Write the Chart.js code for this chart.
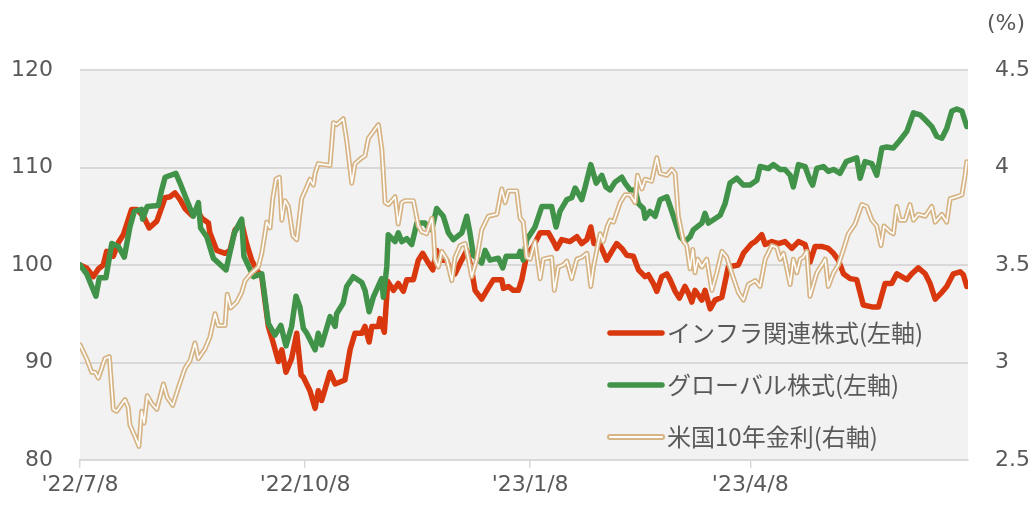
<!DOCTYPE html>
<html><head><meta charset="utf-8">
<script src="https://cdn.jsdelivr.net/npm/chart.js@4.4.1/dist/chart.umd.min.js"></script>
<style>html,body{margin:0;padding:0;background:#fff;}canvas{display:block;}</style>
</head><body>
<canvas id="c" width="1035" height="506"></canvas>
<script>
// x values = days since 2022-07-08
const tickDays = [0, 92, 184, 274];
const tickLabels = ["'22/7/8", "'22/10/8", "'23/1/8", "'23/4/8"];
const seriesNames = ['インフラ関連株式(左軸)', 'グローバル株式(左軸)', '米国10年金利(右軸)'];

const infraDays = [0,2.7,5.4,7.5,9.5,10.9,13.6,15.7,17.7,21.1,23.2,25.9,28.3,31.4,34.8,36.8,38.8,40.9,42.9,45.7,47.7,49.8,52.5,53.1,55.9,59.3,61.3,63.4,66.1,68.2,70.2,72.2,74.3,77.0,79.0,81.1,82.5,84.2,86.5,88.6,90.4,91.3,94.0,96.1,97.4,98.8,102.2,104.3,108.3,110.4,112.4,115.2,116.5,118.2,119.3,122.0,122.6,124.4,125.8,128.1,130.1,132.2,133.6,136.3,138.3,140.1,142.4,144.2,145.8,147.2,149.9,151.3,153.3,155.4,158.1,160.1,161.5,164.2,166.3,169.0,172.4,173.1,175.1,177.1,179.2,180.6,182.6,185.3,188.1,191.5,193.5,194.9,196.9,200.3,203.1,205.1,207.2,208.8,210.1,212.6,215.3,217.4,219.4,221.5,223.5,226.2,228.3,231.0,232.3,234.4,235.8,237.8,239.9,241.2,243.3,245.0,247.3,248.7,250.1,251.4,254.2,255.5,257.6,259.6,262.4,265.0,269.1,271.2,274.6,276.0,278.7,280.1,282.8,285.5,288.2,291.0,293.7,296.4,298.4,300.5,303.2,305.9,308.0,310.0,312.1,314.8,317.5,320.2,323.7,326.4,329.1,331.8,333.9,335.9,338.0,340.0,342.7,345.5,347.5,349.6,352.3,354.3,357.0,359.8,361.1,362.5];
const infraValues = [100,99.7,98.8,99.6,100.0,101.4,100.9,102.3,103.1,105.7,105.7,105.0,103.8,104.5,106.9,107.0,107.4,106.7,105.8,105.1,105.7,104.8,104.3,103.3,101.5,101.2,101.5,103.6,104.3,102.1,100.5,99.5,98.8,93.7,92.0,90.1,91.3,89.0,90.4,93.0,88.7,88.5,87.1,85.3,87.1,86.1,89.0,87.8,88.2,91.3,93.0,93.0,93.7,92.1,93.7,93.7,94.5,93.1,98.3,97.4,98.1,97.3,98.5,98.5,100.5,101.2,100.2,99.5,101.5,100.5,100.5,99.5,99.1,100.2,101.5,99.5,97.4,96.5,97.4,98.5,98.5,97.6,97.8,97.4,97.4,98.5,101.0,101.9,103.3,103.3,102.4,101.7,102.6,102.4,102.9,102.2,102.6,103.9,102.2,102.1,100.5,101.4,102.2,101.7,101.0,100.9,99.5,98.8,99.0,98.1,97.3,98.8,99.1,98.5,97.3,96.6,97.8,97.1,96.2,97.4,96.4,97.4,95.5,96.4,96.7,99.8,100.0,101.2,102.2,102.4,103.1,102.1,102.4,102.2,102.4,101.7,102.4,102.1,100.3,101.9,101.9,101.7,101.2,100.5,99.1,98.6,98.5,95.9,95.7,95.7,98.1,98.1,99.1,98.8,98.5,99.1,99.7,99.1,98.1,96.5,97.2,97.8,99.1,99.3,99.0,97.8];

const globalDays = [0,2.7,6.5,7.9,10.6,13.0,15.7,18.1,20.4,22.2,25.2,25.6,27.5,32.0,33.4,34.8,39.2,40.9,43.6,46.3,48.4,49.3,51.8,54.5,59.7,63.1,66.1,67.0,70.9,74.3,77.0,79.7,82.1,84.2,86.5,88.3,89.9,91.3,92.7,96.1,97.4,98.8,102.2,104.3,104.9,107.6,109.0,111.7,115.2,116.5,118.2,119.9,123.3,124.0,125.4,126.0,128.8,130.1,131.5,133.6,135.6,137.7,141.0,142.4,143.8,145.8,148.5,150.6,152.6,156.1,158.1,159.4,160.8,164.2,165.6,167.6,171.0,172.8,174.2,179.2,179.9,181.2,182.6,186.0,188.8,192.8,194.6,196.2,199.0,201.0,202.4,205.1,206.5,208.8,211.0,213.3,215.0,216.7,218.7,221.5,222.8,224.9,226.9,228.3,230.3,231.0,233.0,235.1,237.1,239.9,242.6,245.3,247.3,249.4,250.7,254.2,255.5,256.9,261.7,263.7,265.7,268.5,271.2,273.9,276.7,278.0,281.4,283.4,286.2,288.2,290.3,291.6,293.7,296.4,298.4,299.5,301.2,303.9,305.9,308.0,310.7,313.2,317.5,318.9,320.9,323.7,325.7,327.8,329.8,332.5,335.2,338.0,340.7,343.4,345.5,348.2,350.2,352.3,354.3,356.4,358.4,360.5,362.5];
const globalValues = [100,99.1,96.8,98.7,98.7,102.2,101.9,100.8,103.9,105.5,105.7,104.7,106.0,106.1,107.7,109.0,109.4,108.4,106.7,105.0,106.4,103.8,102.9,100.7,99.5,103.3,104.7,100.9,98.8,99.1,94.0,92.8,93.8,91.7,93.7,96.8,95.7,93.5,93.0,91.3,93.0,91.8,94.7,93.7,95.0,96.1,97.8,98.8,98.2,97.4,95.2,96.7,98.6,96.7,99.8,103.1,102.4,103.3,102.4,102.7,102.1,104.3,104.3,103.8,103.6,105.8,105.0,103.3,102.6,103.3,105.0,103.3,101.0,100.2,101.5,100.5,100.7,99.7,100.9,100.9,101.4,100.5,102.6,103.9,106.0,106.0,103.9,105.5,106.7,106.9,107.9,106.7,108.0,110.3,108.4,109.2,108.0,107.7,108.5,109.0,108.4,107.7,107.7,106.3,105.8,104.8,105.5,105.0,106.7,107.0,105.0,102.9,102.4,102.9,103.6,104.3,105.3,104.3,105.1,106.3,108.4,108.9,108.2,108.2,108.7,110.1,109.9,110.3,109.8,109.8,109.2,108.0,110.3,110.1,108.7,108.2,109.9,110.1,109.6,109.8,109.4,110.6,111.0,108.9,110.6,110.4,109.2,112.0,112.1,112.0,112.8,113.7,115.6,115.4,114.9,114.2,113.2,113.0,114.0,115.8,116.0,115.8,114.2];

const rateDays = [0,2.7,4.8,6.1,7.5,10.2,12.0,13.6,15.0,18.4,19.7,20.4,22.5,24.1,25.2,26.2,27.5,29.3,31.4,34.1,35.7,37.9,40.2,42.9,45.0,47.0,48.4,51.1,53.1,55.2,56.5,59.3,60.2,61.6,64.1,66.1,67.5,70.2,72.9,74.3,75.6,76.3,77.7,78.8,80.1,81.5,82.5,83.8,85.2,87.0,88.6,90.6,92.0,94.0,95.4,96.1,97.4,102.2,103.6,104.9,107.6,109.0,111.1,112.4,115.2,116.5,117.9,122.0,123.4,124.7,126.1,128.8,130.1,131.5,132.9,136.3,138.3,139.7,141.7,143.8,144.5,145.1,146.5,147.9,149.9,152.0,153.3,155.4,157.4,158.8,160.1,162.2,164.2,166.9,170.4,172.4,173.8,175.1,178.5,179.9,181.2,182.6,184.0,186.0,188.1,189.4,192.8,193.9,195.5,197.6,199.0,201.0,203.1,205.1,207.2,208.8,209.9,212.6,213.9,215.6,216.7,218.1,220.8,222.8,224.9,226.9,227.9,229.7,231.0,233.7,235.8,237.1,239.9,241.9,243.3,244.6,246.7,248.0,249.4,250.5,251.4,252.5,254.2,256.2,258.3,260.3,262.4,264.4,266.4,269.1,271.2,273.2,276.0,278.0,280.1,282.8,284.8,286.2,287.6,290.3,291.6,293.0,294.4,295.7,297.1,298.4,301.2,303.2,304.6,305.9,308.0,310.0,312.1,314.1,316.8,319.6,321.6,323.7,325.7,327.4,328.7,331.2,332.5,333.9,335.2,337.3,339.3,340.7,342.7,345.5,348.2,349.6,352.3,354.3,355.7,358.4,360.5,361.8,362.5];
const rateValues = [3.09,3.02,2.95,2.95,2.92,3.02,3.03,2.76,2.75,2.81,2.77,2.68,2.62,2.57,2.75,2.69,2.83,2.79,2.76,2.89,2.82,2.78,2.87,2.97,3.01,3.10,3.02,3.07,3.13,3.25,3.19,3.19,3.35,3.28,3.31,3.36,3.42,3.46,3.49,3.56,3.66,3.72,3.69,3.84,3.94,3.95,3.73,3.83,3.80,3.65,3.63,3.84,3.88,3.94,3.91,3.97,4.02,4.01,4.23,4.22,4.25,4.14,3.92,4.02,4.05,4.06,4.15,4.22,4.09,3.82,3.81,3.85,3.71,3.82,3.83,3.83,3.70,3.67,3.66,3.74,3.66,3.53,3.49,3.57,3.53,3.42,3.54,3.60,3.61,3.53,3.44,3.53,3.68,3.75,3.76,3.89,3.82,3.88,3.88,3.74,3.72,3.54,3.53,3.62,3.43,3.53,3.54,3.37,3.49,3.50,3.52,3.43,3.53,3.54,3.56,3.39,3.49,3.66,3.62,3.70,3.73,3.72,3.82,3.86,3.86,3.82,3.96,3.89,3.94,3.93,4.05,3.97,3.96,3.99,3.97,3.75,3.62,3.60,3.48,3.58,3.46,3.53,3.49,3.53,3.37,3.46,3.57,3.54,3.46,3.36,3.32,3.40,3.42,3.39,3.53,3.60,3.59,3.53,3.56,3.40,3.53,3.46,3.53,3.54,3.57,3.34,3.46,3.50,3.53,3.39,3.46,3.50,3.58,3.66,3.71,3.81,3.80,3.73,3.70,3.60,3.70,3.67,3.66,3.80,3.73,3.73,3.81,3.73,3.76,3.75,3.80,3.72,3.76,3.72,3.84,3.85,3.86,3.96,4.03];

const RED = '#d9380f', GREEN = '#42934a', TAN = '#d6b485', TXT = '#595959', GRID = '#d9d9d9';
const toXY = (d, v) => d.map((x, i) => ({x: x, y: v[i]}));

const lineBase = {pointRadius: 0, tension: 0, borderJoinStyle: 'round', borderCapStyle: 'round', fill: false};

const plotBg = {
  id: 'plotBg',
  beforeDraw(chart) {
    const {ctx, chartArea: a} = chart;
    ctx.save(); ctx.fillStyle = '#f2f2f2';
    ctx.fillRect(a.left, a.top, a.right - a.left, a.bottom - a.top);
    ctx.restore();
  }
};
const extras = {
  id: 'extras',
  afterDraw(chart) {
    const ctx = chart.ctx;
    ctx.save();
    ctx.fillStyle = TXT;
    ctx.font = '22px "DejaVu Sans"';
    ctx.textAlign = 'center'; ctx.textBaseline = 'middle';
    ctx.fillText('(%)', 1006, 24);
    // legend
    const items = [
      {name: seriesNames[0], y: 333, color: RED, w: 5.5},
      {name: seriesNames[1], y: 385, color: GREEN, w: 5.5},
      {name: seriesNames[2], y: 437, color: TAN, w: 6, inner: true}
    ];
    ctx.lineCap = 'round';
    for (const it of items) {
      ctx.strokeStyle = it.color; ctx.lineWidth = it.w;
      ctx.beginPath(); ctx.moveTo(610, it.y); ctx.lineTo(662, it.y); ctx.stroke();
      if (it.inner) {
        ctx.strokeStyle = '#ffffff'; ctx.lineWidth = 2;
        ctx.beginPath(); ctx.moveTo(610, it.y); ctx.lineTo(662, it.y); ctx.stroke();
      }
      ctx.fillStyle = TXT;
      ctx.font = '24px "Noto Sans CJK JP"';
      ctx.textAlign = 'left'; ctx.textBaseline = 'middle';
      ctx.fillText(it.name, 667, it.y);
    }
    ctx.restore();
  }
};

new Chart(document.getElementById('c'), {
  type: 'line',
  data: {
    datasets: [
      Object.assign({}, lineBase, {label: seriesNames[2] + '_inner', data: toXY(rateDays, rateValues), borderColor: '#ffffff', borderWidth: 1.6, yAxisID: 'y2', order: 0}),
      Object.assign({}, lineBase, {label: seriesNames[2], data: toXY(rateDays, rateValues), borderColor: TAN, borderWidth: 5, yAxisID: 'y2', order: 1}),
      Object.assign({}, lineBase, {label: seriesNames[1], data: toXY(globalDays, globalValues), borderColor: GREEN, borderWidth: 5.5, yAxisID: 'y', order: 2}),
      Object.assign({}, lineBase, {label: seriesNames[0], data: toXY(infraDays, infraValues), borderColor: RED, borderWidth: 5.5, yAxisID: 'y', order: 3})
    ]
  },
  options: {
    responsive: false, animation: false, devicePixelRatio: 1,
    layout: {padding: {top: 70, left: 0, right: 0, bottom: 0}},
    plugins: {legend: {display: false}, tooltip: {enabled: false}},
    scales: {
      x: {
        type: 'linear', min: 0, max: 363,
        afterBuildTicks: s => { s.ticks = tickDays.map(v => ({value: v})); },
        afterFit: s => { s.height = 46; },
        ticks: {autoSkip: false, maxRotation: 0, padding: 4, color: TXT, font: {family: '"DejaVu Sans"', size: 22},
          callback: v => tickLabels[tickDays.indexOf(v)]},
        grid: {drawOnChartArea: false, drawTicks: true, tickLength: 8, color: GRID, lineWidth: 1.5},
        border: {display: true, color: GRID, width: 2}
      },
      y: {
        position: 'left', min: 80, max: 120,
        afterFit: s => { s.width = 80; },
        ticks: {stepSize: 10, padding: 27, color: TXT, font: {family: '"DejaVu Sans"', size: 22}},
        grid: {drawTicks: false, color: GRID, lineWidth: 2},
        border: {display: false}
      },
      y2: {
        position: 'right', min: 2.5, max: 4.5,
        afterFit: s => { s.width = 67; },
        ticks: {stepSize: 0.5, padding: 27, color: TXT, font: {family: '"DejaVu Sans"', size: 22},
          callback: v => String(v)},
        grid: {drawOnChartArea: false, drawTicks: false},
        border: {display: false}
      }
    }
  },
  plugins: [plotBg, extras]
});
</script>
</body></html>
